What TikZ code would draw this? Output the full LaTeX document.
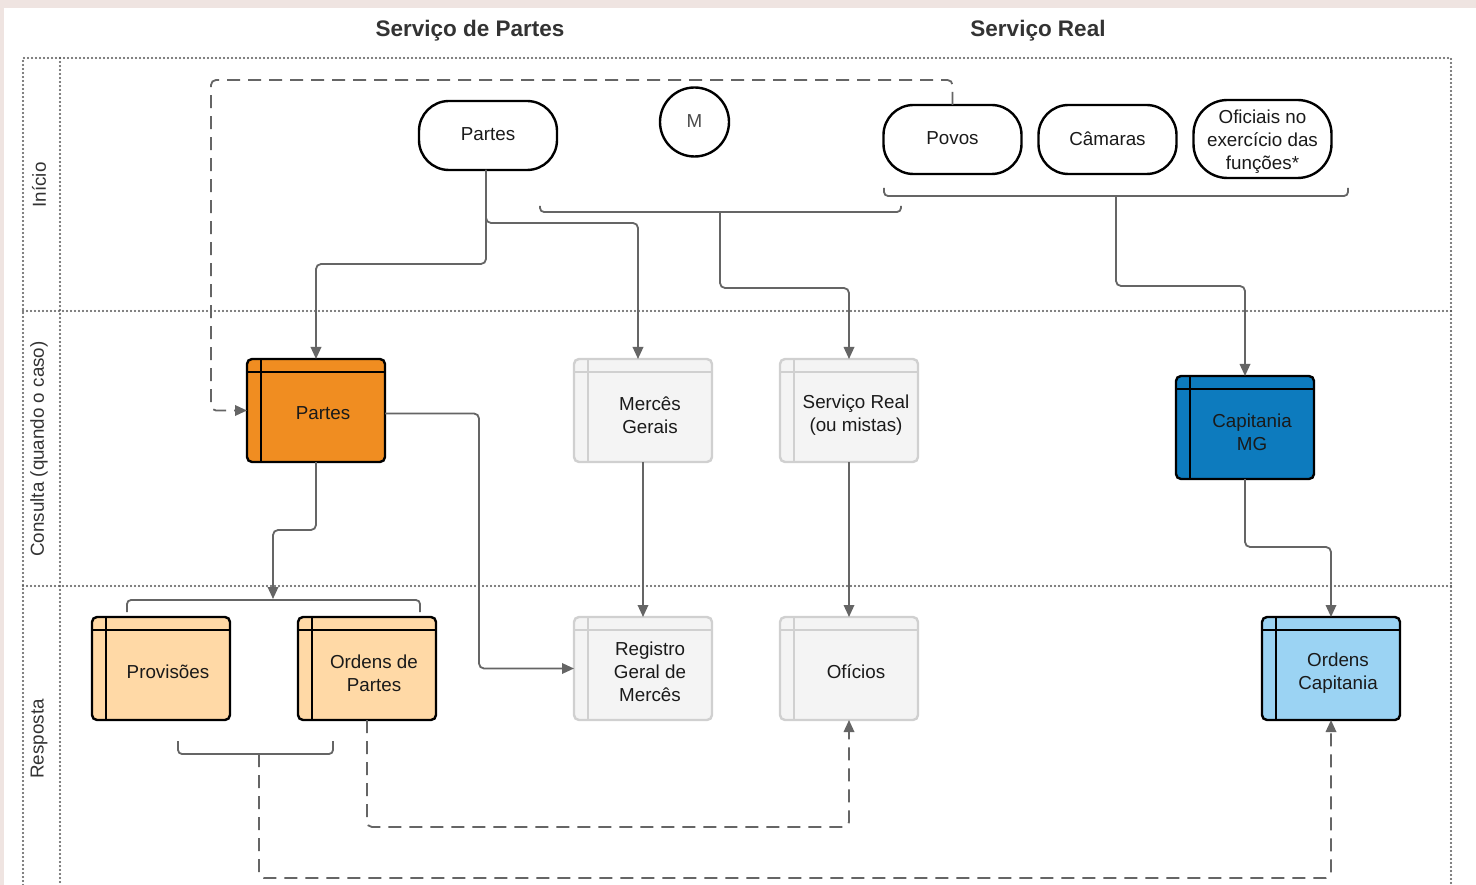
\documentclass[tikz,border=0pt]{standalone}
\usepackage{fontspec}
\setmainfont{Liberation Sans}
\usetikzlibrary{arrows.meta,calc}
\definecolor{bgpink}{HTML}{EFE4E1}
\definecolor{lanec}{HTML}{555555}
\definecolor{connc}{HTML}{656565}
\definecolor{orng}{HTML}{F08D21}
\definecolor{lorng}{HTML}{FFD9A6}
\definecolor{dblue}{HTML}{0D7BBE}
\definecolor{lblue}{HTML}{9BD3F3}
\definecolor{gfill}{HTML}{F4F4F4}
\definecolor{gline}{HTML}{D0D0D0}
\definecolor{txtc}{HTML}{1A1A1A}
\definecolor{hdr}{HTML}{333333}
\begin{document}
\begin{tikzpicture}[x=1pt,y=-1pt,
  txt/.style={font=\fontsize{18.8}{23}\selectfont, text=txtc},
  pill/.style={draw=black, line width=2.4pt, fill=white, rounded corners=30pt, minimum width=138pt, minimum height=69pt, inner sep=0pt, outer sep=0pt},
  pilltext/.style={txt, align=center},
  store/.style={rounded corners=5pt, line width=2.4pt, minimum width=138pt, minimum height=103pt, inner sep=0pt, outer sep=0pt},
  dstore/.style={store, draw=black},
  gstore/.style={store, draw=gline, fill=gfill},
  boxtext/.style={txt, align=center, xshift=7pt, yshift=-4.5pt},
  lanedot/.style={draw=lanec, line width=2.2pt, line cap=round, dash pattern=on 0pt off 4pt},
  conn/.style={draw=connc, line width=1.8pt, rounded corners=5pt, -{Triangle[length=12pt,width=10.5pt]}},
  dconn/.style={conn, dash pattern=on 13pt off 8pt},
  plain/.style={draw=connc, line width=1.8pt, rounded corners=4pt},
  lanelabel/.style={txt, text=hdr, rotate=90},
  header/.style={font=\fontsize{22.5}{27}\selectfont\bfseries, text=hdr}
]
\useasboundingbox (0,0) rectangle (1476,885);
\fill[bgpink] (0,0) rectangle (1476,885);
\fill[white] (4,8) rectangle (1476,885);

% lanes
\draw[lanedot] (23,885) -- (23,58) -- (1451,58) -- (1451,885);
\draw[lanedot] (60,58) -- (60,885);
\draw[lanedot] (23,311) -- (1451,311);
\draw[lanedot] (23,586) -- (1451,586);

\node[header] (h1) at (470,31) {Serviço de Partes};
\node[header] (h2) at (1038,31) {Serviço Real};
\node[lanelabel] (l1) at (39,185) {Início};
\node[lanelabel] (l2) at (39,449) {Consulta (quando o caso)};
\node[lanelabel] (l3) at (39,739) {Resposta};

% start nodes
\node[pill, label={[pilltext, yshift=1pt]center:Partes}] (pp) at (488,135.5) {};
\node[draw=black, line width=2.4pt, circle, minimum size=69pt, inner sep=0pt, outer sep=0pt, fill=white, label={[txt, text=black!70, yshift=1pt]center:M}] (m) at (694.5,122) {};
\node[pill, label={[pilltext, yshift=1pt]center:Povos}] (pv) at (952.5,139.5) {};
\node[pill, label={[pilltext, yshift=1pt]center:Câmaras}] (cam) at (1107.5,139.5) {};
\node[pill, minimum height=78pt, rounded corners=34pt, label={[pilltext, yshift=-3pt]center:Oficiais no\\exercício das\\funções*}] (ofi) at (1262.5,139) {};

% stores
\node[dstore, fill=orng, label={[boxtext, yshift=1.5pt]center:Partes}] (p1) at (316,410.5) {};
\node[gstore, label={[boxtext]center:Mercês\\Gerais}] (mg) at (643,410.5) {};
\node[gstore, label={[boxtext]center:Serviço Real\\(ou mistas)}] (sr) at (849,410.5) {};
\node[dstore, fill=dblue, label={[boxtext]center:Capitania\\MG}] (cm) at (1245,427.5) {};
\node[dstore, fill=lorng, label={[boxtext, yshift=1.5pt]center:Provisões}] (pr) at (161,668.5) {};
\node[dstore, fill=lorng, label={[boxtext]center:Ordens de\\Partes}] (op) at (367,668.5) {};
\node[gstore, label={[boxtext, yshift=1pt]center:Registro\\Geral de\\Mercês}] (rg) at (643,668.5) {};
\node[gstore, label={[boxtext, yshift=1.5pt]center:Ofícios}] (of) at (849,668.5) {};
\node[dstore, fill=lblue, label={[boxtext]center:Ordens\\Capitania}] (oc) at (1331,668.5) {};

\foreach \n in {p1,cm,pr,op,oc} {
  \draw[line width=2.4pt] ([xshift=14pt]\n.north west) -- ([xshift=14pt]\n.south west);
  \draw[line width=2.4pt] ([yshift=-13pt]\n.north west) -- ([yshift=-13pt]\n.north east);
}
\foreach \n in {mg,sr,rg,of} {
  \draw[line width=2.4pt, gline] ([xshift=14pt]\n.north west) -- ([xshift=14pt]\n.south west);
  \draw[line width=2.4pt, gline] ([yshift=-13pt]\n.north west) -- ([yshift=-13pt]\n.north east);
}

% brackets
\draw[plain] (540,206) -- (540,212) -- (901,212) -- (901,206);
\coordinate (b1) at (720,212);
\draw[plain] (884,188) -- (884,196) -- (1348,196) -- (1348,188);
\coordinate (b2) at (1116,196);
\draw[plain] (127,612) -- (127,600) -- (420,600) -- (420,612);
\coordinate (b3) at (273,599);
\draw[plain] (178,741) -- (178,754) -- (333,754) -- (333,741);
\coordinate (b4) at (259,754);
\coordinate (d1) at (211,80);

% connectors
\draw[conn] ([xshift=-2pt]pp.south) -- ++(0,94) -| (p1.north);
\draw[conn] ([xshift=-2pt]pp.south) -- ++(0,53) -| ([xshift=-5pt]mg.north);
\draw[conn] (b1) -- ++(0,76) -| (sr.north);
\draw[conn] (b2) -- ++(0,90) -| (cm.north);
\draw[dconn] (pv.north) |- (d1) |- (p1.west);
\draw[conn] (p1.south) -- ++(0,68) -| (b3);
\draw[conn] ([yshift=-3pt]p1.east) -- ++(94,0) |- (rg.west);
\draw[conn] (mg.south) -- (rg.north);
\draw[conn] (sr.south) -- (of.north);
\draw[conn] (cm.south) -- ++(0,68) -| (oc.north);
\draw[dconn] (op.south) -- ++(0,107) -| (of.south);
\draw[dconn] (b4) -- ++(0,124) -| (oc.south);
\end{tikzpicture}
\end{document}
